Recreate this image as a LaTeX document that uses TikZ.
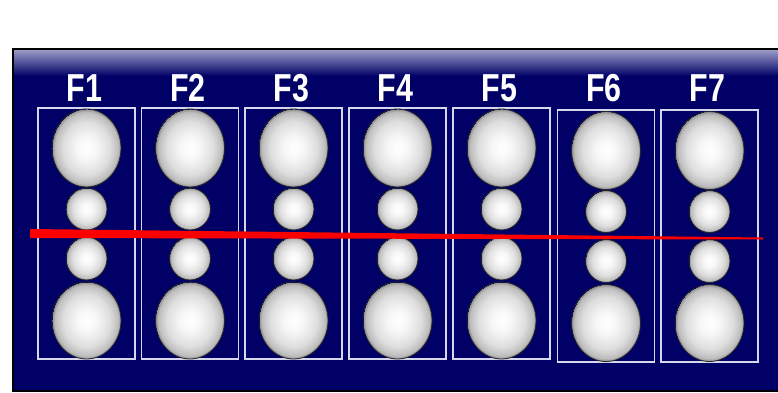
\documentclass[tikz,border=0pt]{standalone}
\usepackage{fontspec}
\setmainfont{Liberation Sans}
\usepackage{graphicx}
\usetikzlibrary{shapes.geometric}
\definecolor{navy}{RGB}{0,0,102}
\definecolor{panelTop}{RGB}{155,155,200}
\definecolor{boxline}{RGB}{215,215,235}
\definecolor{redbar}{RGB}{250,0,0}
\pgfdeclareradialshading{sphereshade}{\pgfpoint{0bp}{0bp}}{color(0bp)=(white); color(7bp)=(white!97!black); color(17bp)=(black!13); color(23bp)=(black!26); color(25bp)=(black!45)}
\tikzset{
  colbox/.style={draw=boxline, line width=1.1pt, rectangle, inner sep=0pt},
  sphere/.style={ellipse, inner sep=0pt, shading=sphereshade, draw=black!85, line width=0.8pt},
  lbl/.style={text=white, font=\bfseries\fontsize{39}{39}\selectfont, anchor=base, inner sep=0pt}
}
\begin{document}
\begin{tikzpicture}[x=1pt,y=1pt]
\useasboundingbox (0,0) rectangle (778,392);
\begin{scope}[yshift=392pt, y=-1pt]
\fill[white] (0,0) rectangle (778,392);
\fill[navy] (13,49) rectangle (778,392);
\shade[top color=panelTop, bottom color=navy] (13,50) rectangle (778,76);
\draw[black, line width=2pt] (13,392) -- (13,49) -- (778,49);
\draw[black, line width=2pt] (13,391) -- (778,391);
\foreach \i/\cx/\t/\b/\dy in {1/86.5/108/359/0, 2/190/108/359/0, 3/293.5/108/359/0, 4/397.5/108/359/0, 5/501.5/108/359/0, 6/606/110/362/2.5, 7/709.5/110/362/2.5}{
  \pgfmathsetmacro{\hh}{\b-\t}
  \pgfmathsetmacro{\cy}{(\t+\b)/2}
  \node[colbox, minimum width=97pt, minimum height=\hh pt] (box\i) at (\cx,\cy) {};
  \node[sphere, minimum width=69pt, minimum height=78pt] (top\i) at (\cx,148+\dy) {};
  \node[sphere, minimum width=41pt, minimum height=42pt] (upper\i) at (\cx,209+\dy) {};
  \node[sphere, minimum width=41pt, minimum height=43pt] (lower\i) at (\cx,258.5+\dy) {};
  \node[sphere, minimum width=69pt, minimum height=77pt] (bottom\i) at (\cx,320.5+\dy) {};
  \node[lbl] (lbl\i) at (\cx-2,101.5) {\scalebox{0.78}[1]{F\i}};
}
\fill[redbar] (30,229) -- (763,237.5) -- (763,239.5) -- (30,238) -- cycle;
\end{scope}
\end{tikzpicture}
\end{document}
